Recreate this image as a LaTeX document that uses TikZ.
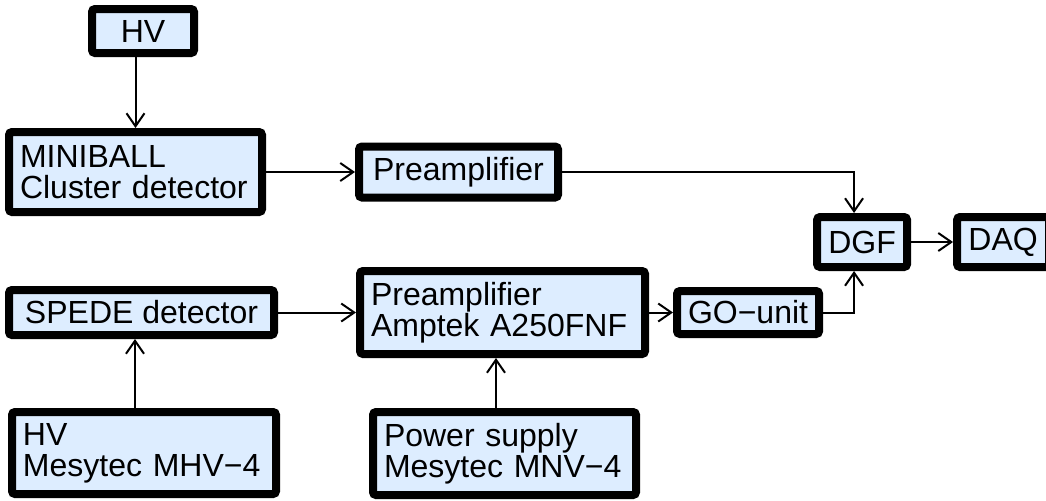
\documentclass[tikz,border=0pt]{standalone}
\usepackage{fontspec}
\usepackage{tikz}
\usetikzlibrary{arrows.meta,calc,positioning}
\newfontfamily\boxfont{Liberation Sans}
\definecolor{boxfill}{RGB}{221,237,255}

\begin{document}
\begin{tikzpicture}[x=0.5pt, y=-0.5pt,
	box/.style={draw, rectangle, line width=4pt, rounded corners=1.5pt, fill=boxfill,
		inner xsep=5.5pt, inner ysep=1pt, font=\boxfont\fontsize{16pt}{15.5pt}\selectfont},
	lbox/.style={box, align=left, text width=#1},
	arr/.style={-{Straight Barb[length=6.5pt, width=9pt]}, line width=1pt}]
		\useasboundingbox (0,0) rectangle (1046,500);
		\clip (0,0) rectangle (1046,500);
		
		\node[lbox=115.5pt, minimum height=40pt] (mini) at (135.5,172) {MINIBALL\\Cluster detector};
		
		\node[box, minimum width=51pt, minimum height=22pt, above=35.5pt of mini, xshift=3.75pt] (hv) {HV};
		
		\node[box, minimum width=99.5pt, minimum height=25.5pt, right=44.5pt of mini] (preA) {Preamplifier};
		
		\node[box, minimum width=132.5pt, minimum height=22.5pt, below=35pt of mini.south west, anchor=north west] (spede) {SPEDE detector};
		
		\node[lbox=121pt, minimum height=41pt, below=34.5pt of spede.south west, anchor=north west, xshift=1.5pt] (hvm) {HV\\Mesytec MHV−4};
		
		\node[lbox=131.5pt, minimum height=41.5pt, right=39pt of spede] (amp) {Preamplifier\\Amptek A250FNF};
		
		\node[lbox=120.5pt, minimum height=41.5pt, below=25pt of amp.south west, anchor=north west, xshift=6.5pt] (psu) {Power supply\\Mesytec MNV−4};
		
		\node[box, minimum width=71pt, minimum height=21.5pt, right=12pt of amp] (go) {GO−unit};
		
		\node[box, minimum width=45pt, minimum height=25pt, above=8pt of go.north east, anchor=south west, xshift=-5pt] (dgf) {DGF};
		
		\node[box, minimum width=46pt, minimum height=25pt, right=21pt of dgf] (daq) {DAQ};
		
		\draw[arr] (hv.south -| mini.north) -- (mini.north);
		\draw[arr] (mini) -- (preA);
		\draw[arr] (preA.east) -| ([xshift=-4pt]dgf.north);
		\draw[arr] (dgf) -- (daq);
		\draw[arr] (spede) -- (amp);
		\draw[arr] (amp) -- (go);
		\draw[arr] (go.east) -| ([xshift=-4pt]dgf.south);
		\draw[arr] ([xshift=-4.5pt]hvm.north) -- ([xshift=-4.5pt]hvm.north |- spede.south);
		\draw[arr] ([xshift=-4.25pt]psu.north) -- ([xshift=-4.25pt]psu.north |- amp.south);
		
\end{tikzpicture}
\end{document}
